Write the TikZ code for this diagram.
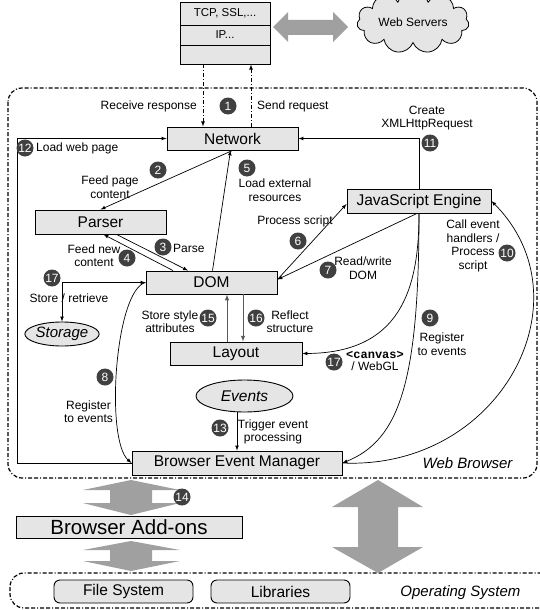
\documentclass[tikz,border=0pt]{standalone}
\usepackage{fontspec}
\setmainfont{Liberation Sans}
\setmonofont{Liberation Mono}
\usetikzlibrary{shapes.geometric, shapes.symbols, positioning}

\definecolor{boxgray}{RGB}{229,229,229}
\definecolor{numgray}{RGB}{64,64,64}
\definecolor{blockgray}{RGB}{160,160,160}
\definecolor{linegray}{RGB}{90,90,90}

\begin{document}
\begin{tikzpicture}[x=1pt, y=-1pt, >=latex]
	% Setup the styles
	\tikzset{box/.style={draw, line width=0.9pt, fill=boxgray, inner sep=0pt,
	                     font=\fontsize{15.5}{17}\selectfont},
	         note/.style={align=center, inner sep=1pt,
	                      font=\fontsize{12}{13.5}\selectfont},
	         num/.style={circle, fill=numgray, text=white, inner sep=0pt,
	                     minimum size=17pt, font=\fontsize{12}{12}\selectfont},
	         link/.style={->, line width=0.7pt},
	         wire/.style={line width=0.8pt, dash pattern=on 4pt off 2pt on 1pt off 2pt},
	         region/.style={line width=1.2pt, rounded corners=14pt,
	                        dash pattern=on 4pt off 2pt on 4pt off 2pt on 1pt off 2pt},
	         block/.style={fill=blockgray}}
	\useasboundingbox (0,0) rectangle (540,610);
	% Draw the containers
	\draw[region] (8,88) rectangle (537,478);
	\draw[region] (10,573) rectangle (560,608);
	\node[anchor=east, font=\itshape\fontsize{15}{17}\selectfont] at (516,463) (wb) {Web Browser};
	\node[anchor=east, font=\itshape\fontsize{15}{17}\selectfont] at (524,593) (os) {Operating System};
	% Draw the protocol stack and the servers
	\node[box, minimum width=90pt, minimum height=23pt, font=\fontsize{11.5}{12}\selectfont] at (225,13.5) (tcp) {TCP, SSL,...};
	\node[box, minimum width=90pt, minimum height=20pt, font=\fontsize{11.5}{12}\selectfont] at (225,35) (ip) {IP...};
	\node[box, minimum width=90pt, minimum height=19pt] at (225,54.5) (stack) {};
	\node[draw, cloud, cloud puffs=11, aspect=2.6, fill=boxgray, line width=0.8pt,
	      minimum width=112pt, minimum height=44pt, font=\fontsize{12}{13}\selectfont] at (413,22) (web) {Web Servers};
	% Draw the components
	\node[box, minimum width=131pt, minimum height=23pt] at (232.5,138.5) (net) {Network};
	\node[box, minimum width=131pt, minimum height=24pt] at (100.5,222) (parser) {Parser};
	\node[box, minimum width=131pt, minimum height=23pt] at (211.5,282.5) (dom) {DOM};
	\node[box, minimum width=144pt, minimum height=24pt] at (419,201) (js) {JavaScript Engine};
	\node[box, minimum width=132pt, minimum height=23pt] at (236,353.5) (layout) {Layout};
	\node[box, minimum width=210pt, minimum height=24pt] at (237,463) (bem) {Browser Event Manager};
	\node[box, minimum width=226pt, minimum height=22pt, font=\fontsize{20.5}{22}\selectfont] at (129,527) (addons) {Browser Add-ons};
	\node[box, rounded corners=6pt, minimum width=139pt, minimum height=23pt] at (123.5,591.5) (fs) {File System};
	\node[box, rounded corners=6pt, minimum width=139pt, minimum height=23pt] at (280.5,591.5) (libs) {Libraries};
	\node[box, ellipse, minimum width=74pt, minimum height=24pt, font=\itshape\fontsize{15}{17}\selectfont] at (62,334) (storage) {Storage};
	\node[box, ellipse, minimum width=97pt, minimum height=32pt, font=\itshape\fontsize{15.5}{17}\selectfont] at (244.5,396) (events) {Events};
	% Draw the block arrows
	\fill[block] (273,27) -- (288,12) -- (288,20) -- (333,20) -- (333,12) -- (348,27)
	   -- (333,42) -- (333,35) -- (288,35) -- (288,42) -- cycle;
	\fill[block] (131,480) -- (180,490) -- (152,490) -- (152,503) -- (180,503) -- (131,515)
	   -- (83,503) -- (110,503) -- (110,490) -- (83,490) -- cycle;
	\fill[block] (131,541) -- (180,550) -- (152,550) -- (152,561) -- (180,561) -- (131,571)
	   -- (83,561) -- (110,561) -- (110,550) -- (83,550) -- cycle;
	\fill[block] (378,480) -- (423,507) -- (398,507) -- (398,547) -- (423,547) -- (378,573)
	   -- (332,547) -- (358,547) -- (358,507) -- (332,507) -- cycle;
	% Connect the components
	\draw[wire, ->] ([xshift=-22pt]stack.south) -- ([xshift=-22pt]stack.south |- net.north);
	\draw[wire, <-] ([xshift=26pt]stack.south) -- ([xshift=26pt]stack.south |- net.north);
	\coordinate (corner) at (17,463);
	\draw[link] (bem.west) -- (corner) |- (net.west);
	\draw[link] (js.north) |- (net.east);
	\draw[link] (net.south) -- (parser.north);
	\draw[link] ([xshift=16pt]parser.south) -- ([xshift=-23.5pt]dom.north);
	\draw[link] ([xshift=-38.5pt]dom.north) -- ([xshift=3pt]parser.south);
	\draw[link] ([xshift=1pt]dom.north) -- ([xshift=-2pt]net.south);
	\draw[link] ([yshift=3pt]dom.east) -- ([yshift=-3pt]js.west);
	\draw[link] ([xshift=-2pt]js.south) -- ([yshift=3pt]dom.east);
	\draw[link] (js.south) .. controls (419,290) and (400,353) .. (layout.east);
	\draw[link] (js.south) .. controls (419,380) and (400,440) .. (bem.east);
	\draw[link] (bem.east) .. controls (500,470) and (590,300) .. (js.east);
	\draw[link] (dom.west) .. controls (115,290) and (105,440) .. (bem.west);
	\draw[link, <->] (dom.west) -| (storage.north);
	\draw[link, linegray, line width=1pt] ([xshift=-9pt]layout.north) -- ([xshift=-9pt]layout.north |- dom.south);
	\draw[link, linegray, line width=1pt] ([xshift=7pt]layout.north |- dom.south) -- ([xshift=7pt]layout.north);
	\draw[link] (events.south -| bem.north) -- (bem.north);
	% Label the steps
	\node[note, anchor=east] at (198,106) (recv) {Receive response};
	\node[note, anchor=west] at (256,106) (send) {Send request};
	\node[note] at (427,118) (xhr) {Create\\XMLHttpRequest};
	\node[note, anchor=west] at (35,148) (load) {Load web page};
	\node[note] at (110,187) (feed) {Feed page\\content};
	\node[note] at (275,190) (ext) {Load external\\resources};
	\node[note] at (295,221) (proc) {Process script};
	\node[note, anchor=west] at (172,248) (parse) {Parse};
	\node[note] at (94,255.5) (feednew) {Feed new\\content};
	\node[note] at (363,268) (rw) {Read/write\\DOM};
	\node[note] at (69,298) (store) {Store / retrieve};
	\node[note] at (170,321.5) (style) {Store style\\attributes};
	\node[note] at (290,321.5) (reflect) {Reflect\\structure};
	\node[note] at (442,344) (regjs) {Register\\to events};
	\node[note] at (473,246) (call) {Call event\\handlers /\\Process\\script};
	\node[note, font=\fontsize{12}{12.5}\selectfont] at (375,361) (canvas) {{\ttfamily\bfseries <canvas>}\\/ WebGL};
	\node[note] at (88.5,411.5) (regdom) {Register\\to events};
	\node[note] at (273,432) (trigger) {Trigger event\\processing};
	% Number the steps
	\node[num] at (228,106) (n1) {1};
	\node[num] at (158,170) (n2) {2};
	\node[num] at (163,247) (n3) {3};
	\node[num] at (127,258) (n4) {4};
	\node[num] at (247,168) (n5) {5};
	\node[num] at (298,241) (n6) {6};
	\node[num] at (328,270) (n7) {7};
	\node[num] at (105,377) (n8) {8};
	\node[num] at (430,318) (n9) {9};
	\node[num] at (507,253) (n10) {10};
	\node[num] at (430,143) (n11) {11};
	\node[num] at (25,148) (n12) {12};
	\node[num] at (220,428) (n13) {13};
	\node[num] at (182,497) (n14) {14};
	\node[num] at (208,318) (n15) {15};
	\node[num] at (256,318) (n16) {16};
	\node[num] at (52,278) (n17a) {17};
	\node[num] at (334,362) (n17b) {17};
\end{tikzpicture}
\end{document}
